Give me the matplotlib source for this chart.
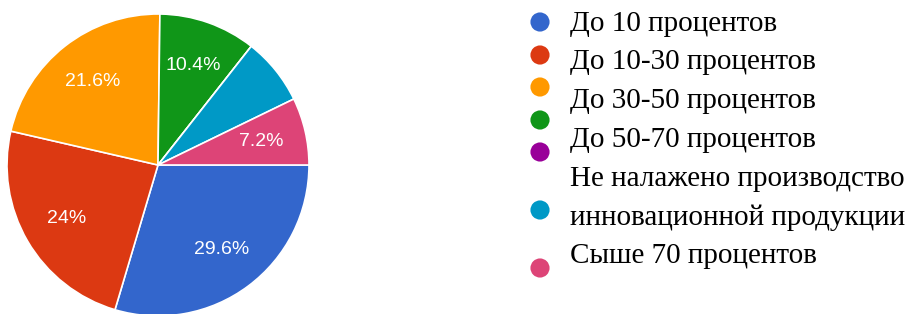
import matplotlib.pyplot as plt
import numpy as np

# answers, % of 125 respondents
values = [29.6, 24, 21.6, 10.4, 0, 7.2, 7.2]
slice_labels = ['29.6%', '24%', '21.6%', '10.4%', '', '', '7.2%']
legend_names = ['До 10 процентов', 'До 10-30 процентов', 'До 30-50 процентов',
                'До 50-70 процентов',
                'Не налажено производство\nинновационной продукции',
                'Сыше 70 процентов']
colors = ['#3366cc', '#dc3912', '#ff9900', '#109618', '#990099', '#0099c6', '#dd4477']

W, H = 913, 314
fig = plt.figure(figsize=(W / 100, H / 100), dpi=100)

# pie, centre at (158,165) px, radius 151 px
r = 151
ax = fig.add_axes([(158 - r) / W, (H - 165 - r) / H, 2 * r / W, 2 * r / H])
vals = [v if v > 0 else 1e-9 for v in values]
wedges, _ = ax.pie(vals, colors=colors, startangle=0, counterclock=False,
                   radius=1, wedgeprops=dict(edgecolor='white', linewidth=1.2))
for w, lab in zip(wedges, slice_labels):
    if not lab:
        continue
    ang = np.deg2rad((w.theta1 + w.theta2) / 2)
    ax.text(0.70 * np.cos(ang), 0.70 * np.sin(ang), lab, color='white',
            ha='center', va='center', fontsize=14, family='Liberation Sans')
ax.set_xlim(-1, 1)
ax.set_ylim(-1, 1)
ax.axis('off')

# legend drawn by hand (Google Forms layout)
lax = fig.add_axes([0, 0, 1, 1])
lax.set_xlim(0, W)
lax.set_ylim(H, 0)
lax.axis('off')
marker_y = [22, 55, 87, 120, 152, 210, 268]
lax.scatter([540] * len(colors), marker_y, s=190, c=colors, linewidths=0)
lines = [ln for name in legend_names for ln in name.split('\n')]
text_y = [24, 62, 101, 140, 179, 218, 256]
for ty, ln in zip(text_y, lines):
    lax.text(570, ty, ln, ha='left', va='center', fontsize=21,
             family='Liberation Serif', color='black')

fig.savefig('out.png', dpi=100)
